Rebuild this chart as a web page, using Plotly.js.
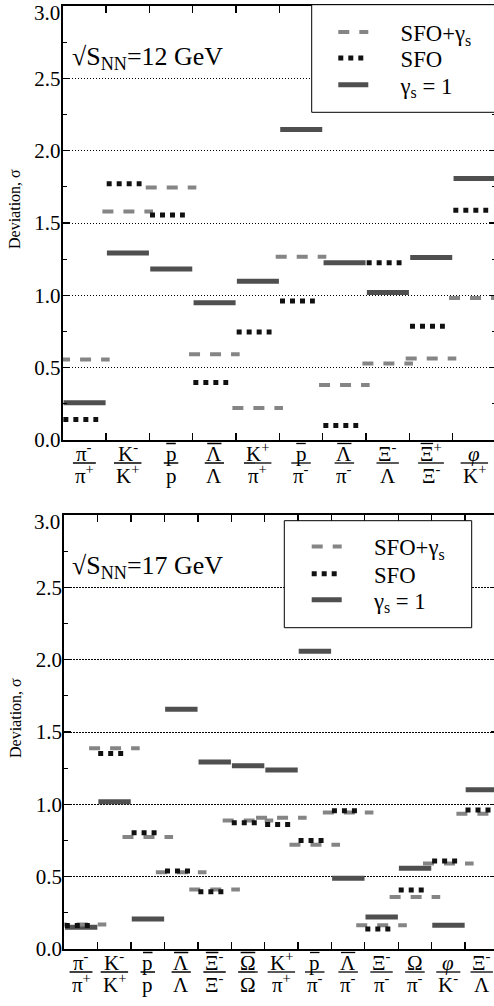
<!DOCTYPE html>
<html>
<head>
<meta charset="utf-8">
<script src="https://cdn.plot.ly/plotly-3.0.1.min.js"></script>
<style>
html,body{margin:0;padding:0;overflow:hidden;background:#fff;}
#chart{width:500px;height:1006px;}
</style>
</head>
<body>
<div id="chart"></div>
<script>
// "~X" marks a letter X drawn with an antiparticle bar over it

// ---------- √sNN = 12 GeV ----------
const ratios12 = ['π-/π+','K-/K+','p̄/p','Λ̄/Λ','K+/π+','p̄/π-','Λ̄/π-','Ξ-/Λ','Ξ̄+/Ξ-','φ/K+'];
const num12 = ['π<sup>-</sup>','K<sup>-</sup>','~p','~Λ','K<sup>+</sup>','~p','~Λ','Ξ<sup>-</sup>','~Ξ<sup>+</sup>','<i>φ</i>'];
const den12 = ['π<sup>+</sup>','K<sup>+</sup>','p','Λ','π<sup>+</sup>','π<sup>-</sup>','π<sup>-</sup>','Λ','Ξ<sup>-</sup>','K<sup>+</sup>'];
const sfoGs12 = [0.557, 1.580, 1.745, 0.592, 0.221, 1.266, 0.380, 0.528, 0.563, 0.981];
const sfo12   = [0.142, 1.772, 1.555, 0.397, 0.747, 0.961, 0.101, 1.225, 0.787, 1.588];
const gs1_12  = [0.258, 1.292, 1.182, 0.948, 1.098, 2.146, 1.225, 1.020, 1.262, 1.807];

// ---------- √sNN = 17 GeV ----------
const ratios17 = ['π-/π+','K-/K+','p̄/p','Λ̄/Λ','Ξ̄-/Ξ-','Ω̄/Ω','K+/π+','p̄/π-','Λ̄/π-','Ξ-/π-','Ω/π-','φ/K-','Ξ-/Λ'];
const num17 = ['π<sup>-</sup>','K<sup>-</sup>','~p','~Λ','~Ξ<sup>-</sup>','~Ω','K<sup>+</sup>','~p','~Λ','Ξ<sup>-</sup>','Ω','<i>φ</i>','Ξ<sup>-</sup>'];
const den17 = ['π<sup>+</sup>','K<sup>+</sup>','p','Λ','Ξ<sup>-</sup>','Ω','π<sup>+</sup>','π<sup>-</sup>','π<sup>-</sup>','π<sup>-</sup>','π<sup>-</sup>','K<sup>-</sup>','Λ'];
const sfoGs17 = [0.170, 1.387, 0.775, 0.531, 0.411, 0.888, 0.908, 0.720, 0.944, 0.164, 0.360, 0.591, 0.935];
const sfo17   = [0.162, 1.352, 0.803, 0.540, 0.395, 0.872, 0.861, 0.750, 0.955, 0.138, 0.408, 0.609, 0.960];
const gs1_17  = [0.150, 1.018, 0.208, 1.657, 1.292, 1.267, 1.237, 2.059, 0.489, 0.222, 0.558, 0.164, 1.100];

const yTickVals = [0, 0.5, 1.0, 1.5, 2.0, 2.5, 3.0];
const yTickText = ['0.0','0.5','1.0','1.5','2.0','2.5',''];
const seriesNames = ['SFO+γ<sub>s</sub>', 'SFO', 'γ<sub>s</sub> = 1'];

// ---------- layout geometry (pixels) ----------
const W = 500, H = 1006;
const FONT = '"Liberation Serif","Times New Roman",serif';
const px = v => v / W;
const py = v => 1 - v / H;

const STY = {
  sfoGs: {color:'#858585', width:4, dash:'11px,10px'},
  sfo:   {color:'#111111', width:5, dash:'5px,5px'},
  gs1:   {color:'#4f4f4f', width:5, dash:'solid'}
};

const panels = [
  {xa:'x', ya:'y', left:62.7, right:496, top:6, bottom:440, cats:ratios12, num:num12, den:den12,
   sfoGs:sfoGs12, sfo:sfo12, gs1:gs1_12, label:'√S<sub>NN</sub>=12 GeV',
   legs:['legend','legend2','legend3'], legSymX:338.3, legY:[32.3,58.3,85], box:[311.7,4.7,499,112.3], titleY:209},
  {xa:'x2', ya:'y2', left:64.3, right:498.4, top:515, bottom:949, cats:ratios17, num:num17, den:den17,
   sfoGs:sfoGs17, sfo:sfo17, gs1:gs1_17, label:'√S<sub>NN</sub>=17 GeV',
   legs:['legend4','legend5','legend6'], legSymX:311.7, legY:[546.7,574,600], box:[284.3,520.7,471.7,627.7], titleY:718}
];

const cv = document.createElement('canvas').getContext('2d');
function textW(html, fs){
  const small = [];
  html.replace(/<su[pb]>(.*?)<\/su[pb]>/g, (m, s) => { small.push(s); return ''; });
  const main = html.replace(/<su[pb]>.*?<\/su[pb]>/g, '').replace(/<[^>]+>/g, '');
  cv.font = (html.indexOf('<i>') >= 0 ? 'italic ' : '') + fs + 'px "Liberation Serif"';
  let w = cv.measureText(main).width;
  cv.font = (0.7 * fs) + 'px "Liberation Serif"';
  small.forEach(s => { w += cv.measureText(s).width; });
  return w;
}

function segs(vals, a, b){
  const x = [], y = [];
  vals.forEach((v, i) => { x.push(i + a, i + b, null); y.push(v, v, null); });
  return {x, y};
}

const traces = [], annotations = [], shapes = [];
const layout = {
  width: W, height: H,
  margin: {l:0, r:0, t:0, b:0},
  paper_bgcolor: '#fff', plot_bgcolor: '#fff',
  font: {family: FONT, color: '#000'},
  showlegend: true
};

const LBL = 21;
const ENERGY_FS = 151 * 100 / textW('√S<sub>NN</sub>=12 GeV', 100);
const LEG_FS = 70.7 * 100 / textW('SFO+γ<sub>s</sub>', 100);
const LEG_PAD = '\u2003\u2009';

panels.forEach((p, k) => {
  const n = p.cats.length;
  const catPx = (p.right - p.left) / n;
  const hl = 25.3 / catPx;
  const xs = k === 0 ? '' : '2';
  layout['xaxis' + xs] = {
    domain: [px(p.left), px(p.right)], range: [0, n], anchor: 'y' + xs,
    showgrid: false, zeroline: false, showticklabels: false,
    tickmode: 'array', tickvals: p.cats.map((c, i) => i).slice(1),
    ticks: 'inside', ticklen: 7, tickwidth: 1.3, tickcolor: '#000',
    showline: true, linewidth: 2, linecolor: '#000', mirror: 'ticks', fixedrange: true
  };
  layout['yaxis' + xs] = {
    domain: [py(p.bottom), py(p.top)], range: [0, 3], anchor: 'x' + xs,
    tickmode: 'array', tickvals: yTickVals, ticktext: yTickText,
    ticks: 'inside', ticklen: 7, tickwidth: 1.3, tickcolor: '#000', ticklabelstandoff: -4,
    minor: {tickmode: 'linear', tick0: 0, dtick: 0.25, ticks: 'inside', ticklen: 4, tickwidth: 1.3, tickcolor: '#000', showgrid: false},
    showgrid: true, gridcolor: '#000', gridwidth: 1, griddash: '1.5px,1.5px',
    zeroline: false, showline: true, linewidth: 2, linecolor: '#000', mirror: 'ticks',
    tickfont: {family: FONT, size: 21, color: '#000'}, fixedrange: true
  };

  const defs = [
    {vals: p.gs1, st: STY.gs1, a: 0.02, b: 0.99, name: seriesNames[2], leg: p.legs[2], ly: p.legY[2]},
    {vals: p.sfoGs, st: STY.sfoGs, a: 0.5 - hl, b: 0.5 + hl, name: seriesNames[0], leg: p.legs[0], ly: p.legY[0]},
    {vals: p.sfo, st: STY.sfo, a: 0.015, b: 0.82, name: seriesNames[1], leg: p.legs[1], ly: p.legY[1]}
  ];
  defs.forEach(d => {
    const s = segs(d.vals, d.a, d.b);
    traces.push({
      type: 'scatter', mode: 'lines', x: s.x, y: s.y, xaxis: p.xa, yaxis: p.ya,
      name: LEG_PAD + d.name, legend: d.leg, showlegend: true, connectgaps: false, hoverinfo: 'skip',
      line: {color: d.st.color, width: d.st.width, dash: d.st.dash}
    });
    layout[d.leg] = {
      x: px(p.legSymX - 5), y: py(d.ly), xanchor: 'left', yanchor: 'middle',
      bgcolor: 'rgba(0,0,0,0)', borderwidth: 0,
      font: {family: FONT, size: LEG_FS, color: '#000'}
    };
  });

  // legend frame
  shapes.push({type: 'rect', xref: 'paper', yref: 'paper', layer: 'above',
    x0: px(p.box[0]), x1: px(p.box[2]), y0: py(p.box[1]), y1: py(p.box[3]),
    line: {color: '#000', width: 1}, fillcolor: '#fff'});

  // category labels (fractions)
  const desc = 0.216 * LBL;
  p.cats.forEach((c, i) => {
    const rawNum = p.num[i];
    const numTxt = rawNum.replace('~', '');
    annotations.push({xref: p.xa, yref: 'paper', x: i + 0.5, y: py(p.bottom + 21 + desc),
      xanchor: 'center', yanchor: 'bottom', text: numTxt, showarrow: false,
      borderpad: 0, borderwidth: 0, font: {family: FONT, size: LBL, color: '#000'}});
    annotations.push({xref: p.xa, yref: 'paper', x: i + 0.5, y: py(p.bottom + 43 + desc),
      xanchor: 'center', yanchor: 'bottom', text: p.den[i], showarrow: false,
      borderpad: 0, borderwidth: 0, font: {family: FONT, size: LBL, color: '#000'}});
    const wNum = textW(numTxt, LBL);
    const wpx = Math.max(wNum, textW(p.den[i], LBL)) + 4;
    const hw = wpx / 2 / catPx;
    shapes.push({type: 'line', xref: p.xa, yref: 'paper', x0: i + 0.5 - hw, x1: i + 0.5 + hw,
      y0: py(p.bottom + 23), y1: py(p.bottom + 23), line: {color: '#000', width: 1.3}});
    const tpos = rawNum.indexOf('~');
    if (tpos >= 0) {
      const letter = rawNum.charAt(tpos + 1);
      const lw = textW(letter, LBL);
      const l0 = i + 0.5 - wNum / 2 / catPx;
      shapes.push({type: 'line', xref: p.xa, yref: 'paper', x0: l0 + 0.5 / catPx, x1: l0 + (lw - 0.5) / catPx,
        y0: py(p.bottom + 3.5), y1: py(p.bottom + 3.5), line: {color: '#000', width: 1.3}});
    }
  });

  // energy label
  annotations.push({xref: 'paper', yref: 'paper', x: px(72), y: py(p.top + 59 - 0.891 * ENERGY_FS),
    xanchor: 'left', yanchor: 'top', text: p.label, showarrow: false, borderpad: 0, borderwidth: 0,
    font: {family: FONT, size: ENERGY_FS, color: '#000'}});
  // top tick label (drawn just inside the frame as in the original)
  annotations.push({xref: 'paper', yref: 'paper', x: px(60), y: py(p.top + 7), xanchor: 'right', yanchor: 'middle',
    text: '3.0', showarrow: false, borderpad: 0, borderwidth: 0, font: {family: FONT, size: 21, color: '#000'}});
  // y title
  annotations.push({xref: 'paper', yref: 'paper', x: px(15), y: py(p.titleY), xanchor: 'center', yanchor: 'middle',
    text: 'Deviation, σ', textangle: -90, showarrow: false, borderpad: 0, borderwidth: 0,
    font: {family: FONT, size: 16, color: '#000'}});
});

layout.annotations = annotations;
layout.shapes = shapes;

Plotly.newPlot('chart', traces, layout, {staticPlot: true, displayModeBar: false});
</script>
</body>
</html>
